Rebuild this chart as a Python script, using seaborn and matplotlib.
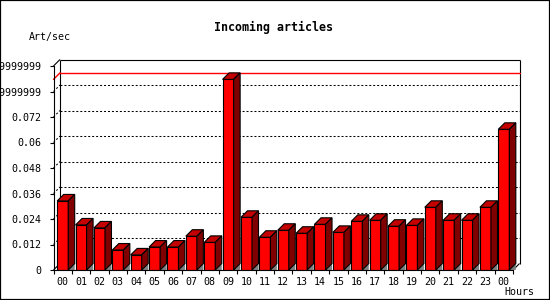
import numpy as np
import pandas as pd
import matplotlib
matplotlib.use("Agg")
import matplotlib.pyplot as plt
import seaborn as sns
from matplotlib.patches import Polygon, Rectangle

# ---- data ----
hours = ["00", "01", "02", "03", "04", "05", "06", "07", "08", "09", "10", "11",
         "12", "13", "14", "15", "16", "17", "18", "19", "20", "21", "22", "23", "00"]
rates = [0.0325, 0.0212, 0.0198, 0.0094, 0.0071, 0.0108, 0.0108, 0.0159, 0.0130,
         0.0897, 0.0248, 0.0154, 0.0187, 0.0173, 0.0215, 0.0177, 0.0229, 0.0234,
         0.0206, 0.0210, 0.0295, 0.0234, 0.0234, 0.0295, 0.0662]
ytick_values = [0, 0.012, 0.024, 0.036, 0.048, 0.06, 0.072, 0.084, 0.096]
ytick_labels = ["0", "0.012", "0.024", "0.036", "0.048", "0.06", "0.072",
                "0.08399999999999999", "0.09599999999999999"]
title = "Incoming articles"
y_unit = "Art/sec"
x_unit = "Hours"

sns.set_style("white")
plt.rcParams["font.family"] = ["DejaVu Sans Mono"]
plt.rcParams["text.color"] = "black"
plt.rcParams["xtick.color"] = "black"
plt.rcParams["ytick.color"] = "black"

W, H = 550, 300
fig = plt.figure(figsize=(5.5, 3), dpi=100)
ax = fig.add_axes([53.5 / W, 30 / H, 459.5 / W, 204 / H])

df = pd.DataFrame({"slot": np.arange(len(hours)), "rate": rates})
sns.barplot(data=df, x="slot", y="rate", color="#ff0000", saturation=1,
            width=0.6, edgecolor="black", linewidth=0.8, ax=ax, zorder=4)

n = len(hours)
ax.set_xlim(-0.5, n - 0.5)
ax.set_ylim(0, ytick_values[-1])

# 3D depth in data units
DEPTH_PX = 6.5
dx = DEPTH_PX / (459.5 / n)
dy = DEPTH_PX / (204 / ytick_values[-1])

x_lo, x_hi = -0.5, n - 0.5
ytop = ytick_values[-1]

# back wall grid lines
for v in ytick_values[1:-1]:
    ax.plot([x_lo + dx, x_hi + dx], [v + dy, v + dy], color="black", lw=0.75,
            dashes=(1.9, 1.9), zorder=1, clip_on=False)
    ax.plot([x_lo, x_lo + dx], [v, v + dy], color="black", lw=0.75,
            dashes=(1.9, 1.9), zorder=1, clip_on=False)

# back wall frame
kw = dict(color="black", lw=0.8, zorder=1, clip_on=False, solid_capstyle="butt")
ax.plot([x_lo + dx, x_hi + dx], [ytop + dy, ytop + dy], **kw)
ax.plot([x_lo + dx, x_lo + dx], [dy, ytop + dy], **kw)
ax.plot([x_hi + dx, x_hi + dx], [dy, ytop + dy], **kw)
ax.plot([x_lo, x_lo + dx], [ytop, ytop + dy], **kw)
ax.plot([x_lo, x_lo + dx], [0, dy], **kw)
ax.plot([x_hi, x_hi + dx], [0, dy], **kw)

# maximum line
vmax = max(rates)
ax.plot([x_lo + dx, x_hi + dx], [vmax + dy, vmax + dy], color="#ff0000", lw=1.0,
        zorder=2, clip_on=False)
ax.plot([x_lo, x_lo + dx], [vmax, vmax + dy], color="#ff0000", lw=1.0,
        zorder=2, clip_on=False)

# 3D faces for each bar
for p in list(ax.patches):
    x0 = p.get_x()
    w = p.get_width()
    h = p.get_height()
    xr = x0 + w
    ax.add_patch(Polygon([(xr, 0), (xr + dx, dy), (xr + dx, 0)], closed=True,
                         fc="#808080", ec="none", zorder=3, clip_on=False))
    ax.add_patch(Polygon([(x0, h), (x0 + dx, h + dy), (xr + dx, h + dy), (xr, h)],
                         closed=True, fc="#c40000", ec="black", lw=0.8,
                         zorder=4, clip_on=False))
    ax.add_patch(Polygon([(xr, 0), (xr, h), (xr + dx, h + dy), (xr + dx, dy)],
                         closed=True, fc="#800000", ec="black", lw=0.8,
                         zorder=4, clip_on=False))

# axes styling
for s in ["top", "right"]:
    ax.spines[s].set_visible(False)
for s in ["left", "bottom"]:
    ax.spines[s].set_color("black")
    ax.spines[s].set_linewidth(0.8)
    ax.spines[s].set_zorder(5)

ax.set_yticks(ytick_values, ytick_labels)
ax.tick_params(axis="y", left=True, length=3, width=0.8, pad=5.5,
               labelsize=7.2, colors="black", labelcolor="black", direction="out")
ax.set_xticks(range(n), hours)
ax.set_xticks(np.arange(-0.5, n, 1.0), minor=True)
ax.tick_params(axis="x", which="major", bottom=True, length=0, pad=5,
               labelsize=7.2, colors="black", labelcolor="black")
ax.tick_params(axis="x", which="minor", bottom=True, length=3, width=0.8,
               colors="black", direction="out")
ax.set_xlabel("")
ax.set_ylabel("")
ax.set_facecolor("white")
ax.grid(False)

fig.text(274 / W, 1 - 27 / H, title, ha="center", va="center", fontsize=8.4,
         fontweight="bold", color="black")
fig.text(29 / W, 1 - 37 / H, y_unit, ha="left", va="center", fontsize=7.2,
         color="black")
fig.text(504 / W, 1 - 292 / H, x_unit, ha="left", va="center", fontsize=7.2,
         color="black")

fig.patches.append(Rectangle((0, 0), 1, 1, transform=fig.transFigure, fill=False,
                             ec="black", lw=1.6))

fig.savefig("out.png", dpi=100, facecolor="white")
